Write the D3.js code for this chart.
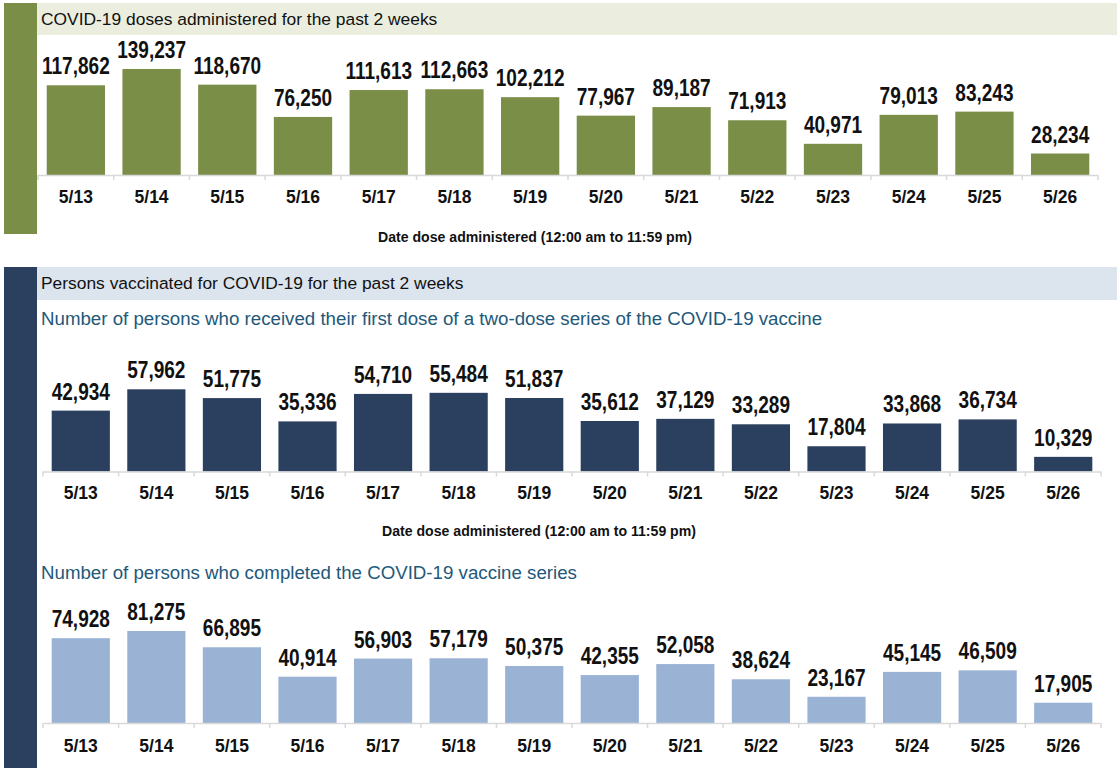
<!DOCTYPE html>
<html><head><meta charset="utf-8">
<script src="https://cdn.jsdelivr.net/npm/d3@7"></script>
<style>
html,body{margin:0;padding:0;background:#fff;}
svg{display:block;}
</style></head>
<body>
<svg id="c" width="1117" height="768"></svg>
<script>
const dates = ["5/13","5/14","5/15","5/16","5/17","5/18","5/19","5/20","5/21","5/22","5/23","5/24","5/25","5/26"];
const dosesAdministered = [117862,139237,118670,76250,111613,112663,102212,77967,89187,71913,40971,79013,83243,28234];
const firstDose = [42934,57962,51775,35336,54710,55484,51837,35612,37129,33289,17804,33868,36734,10329];
const completedSeries = [74928,81275,66895,40914,56903,57179,50375,42355,52058,38624,23167,45145,46509,17905];
const title1 = "COVID-19 doses administered for the past 2 weeks";
const title2 = "Persons vaccinated for COVID-19 for the past 2 weeks";
const subtitle1 = "Number of persons who received their first dose of a two-dose series of the COVID-19 vaccine";
const subtitle2 = "Number of persons who completed the COVID-19 vaccine series";
const axisTitle = "Date dose administered (12:00 am to 11:59 pm)";

const svg = d3.select("#c");
const fmt = d3.format(",");

const GREEN = "#7b8e48", NAVY = "#2b3f5e", LIGHT = "#9ab3d5";
const SANS = "'Liberation Sans', Arial, sans-serif";

// Section side bars & header bands
svg.append("rect").attr("x",4).attr("y",3).attr("width",33).attr("height",231).attr("fill",GREEN);
svg.append("rect").attr("x",37).attr("y",3).attr("width",1080).attr("height",32).attr("fill","#ebeedf");
svg.append("text").attr("x",41).attr("y",25).text(title1)
  .attr("font-family",SANS).attr("font-size",17.4).attr("fill","#111");

svg.append("rect").attr("x",4).attr("y",267).attr("width",33).attr("height",501).attr("fill",NAVY);
svg.append("rect").attr("x",37).attr("y",267).attr("width",1080).attr("height",33).attr("fill","#dce4ee");
svg.append("text").attr("x",41).attr("y",289).text(title2)
  .attr("font-family",SANS).attr("font-size",17.4).attr("fill","#111");

svg.append("text").attr("x",41).attr("y",325).text(subtitle1)
  .attr("font-family",SANS).attr("font-size",18.7).attr("fill","#22587a");
svg.append("text").attr("x",41).attr("y",579).text(subtitle2)
  .attr("font-family",SANS).attr("font-size",18.7).attr("fill","#22587a");

function drawChart(values, opts){
  const g = svg.append("g");
  const x = d3.scaleBand().domain(dates).range([opts.x0, opts.x1]).padding(0);
  const y = d3.scaleLinear().domain([0, opts.ymax]).range([opts.axisY, opts.topY]);
  const bw = x.bandwidth()*0.77;
  g.selectAll("rect.bar").data(values).enter().append("rect")
    .attr("class","bar")
    .attr("x",(d,i)=>x(dates[i]) + (x.bandwidth()-bw)/2)
    .attr("width",bw)
    .attr("y",d=>y(d))
    .attr("height",d=>y(0)-y(d))
    .attr("fill",opts.color);
  g.selectAll("text.val").data(values).enter().append("text")
    .attr("class","val")
    .attr("transform",(d,i)=>`translate(${x(dates[i]) + x.bandwidth()/2},${y(d)-11}) scale(0.81,1)`)
    .attr("text-anchor","middle")
    .attr("font-family",SANS).attr("font-weight","bold").attr("font-size",23.5)
    .attr("fill","#111")
    .text(d=>fmt(d));
  // axis
  const axis = d3.axisBottom(x).tickSize(0).tickPadding(0);
  const ag = g.append("g").attr("transform",`translate(0,${opts.axisY})`).call(axis);
  ag.select(".domain").remove();
  ag.selectAll(".tick line").remove();
  ag.selectAll(".tick text")
    .attr("y",opts.labelDy).attr("dy",0)
    .attr("font-family",SANS).attr("font-weight","bold").attr("font-size",17.5)
    .attr("fill","#111");
  ag.append("line").attr("x1",opts.x0).attr("x2",opts.x1).attr("y1",0.5).attr("y2",0.5)
    .attr("stroke","#d9d9d9").attr("stroke-width",1.5);
  const bounds = dates.map(d=>x(d)).concat([opts.x1]);
  ag.selectAll("line.bt").data(bounds).enter().append("line").attr("class","bt")
    .attr("x1",d=>d).attr("x2",d=>d).attr("y1",0).attr("y2",5)
    .attr("stroke","#d9d9d9").attr("stroke-width",1.5);
  if(opts.axisTitleY){
    g.append("text")
      .attr("transform",`translate(${(opts.x0+opts.x1)/2 - 33},${opts.axisTitleY}) scale(0.91,1)`)
      .attr("text-anchor","middle")
      .attr("font-family",SANS).attr("font-weight","bold").attr("font-size",15.5)
      .attr("fill","#111").text(axisTitle);
  }
}

drawChart(dosesAdministered,{x0:38,x1:1098,axisY:175,topY:35,ymax:183900,color:GREEN,labelDy:28,axisTitleY:242});
drawChart(firstDose,{x0:43,x1:1101,axisY:471.5,topY:330,ymax:99790,color:NAVY,labelDy:27,axisTitleY:536});
drawChart(completedSeries,{x0:43,x1:1101,axisY:723,topY:585,ymax:121900,color:LIGHT,labelDy:29});
</script>
</body></html>
